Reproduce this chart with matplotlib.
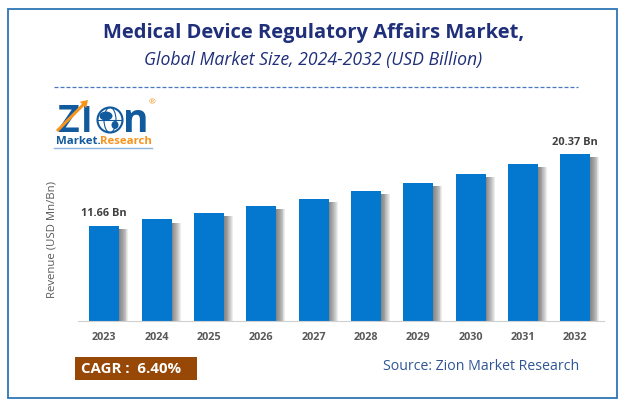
import numpy as np
import matplotlib.pyplot as plt
from matplotlib.patches import Rectangle, Circle, Ellipse, FancyArrow

plt.rcParams['font.family'] = ['Open Sans', 'DejaVu Sans']

years = ['2023', '2024', '2025', '2026', '2027', '2028', '2029', '2030', '2031', '2032']
revenue = [11.66, 12.41, 13.2, 14.04, 14.94, 15.9, 16.91, 18.0, 19.15, 20.37]

W, H = 624, 407
BLUE = '#0477CF'
NAVY = '#1F2F7A'

fig = plt.figure(figsize=(W / 100, H / 100), dpi=100)

# whole figure overlay, in pixels from top left
bg = fig.add_axes([0, 0, 1, 1])
bg.set_xlim(0, W)
bg.set_ylim(H, 0)
bg.axis('off')
bg.add_patch(Rectangle((7.5, 8.5), 609, 389, fill=False, ec='#2E75B6', lw=1.3))

bg.text(314, 33, 'Medical Device Regulatory Affairs Market,', ha='center', va='center',
        fontsize=14.5, fontweight='bold', color=NAVY)
bg.text(313, 60, 'Global Market Size, 2024-2032 (USD Billion)', ha='center', va='center',
        fontsize=12.7, style='italic', color=NAVY)
bg.plot([54, 578], [87, 87], color='#4A78BE', lw=0.9, dashes=(3.2, 1.6))

# chart
ax = fig.add_axes([78 / W, 1 - 321 / H, (604 - 78) / W, (321 - 120) / H])
ax.set_xlim(-0.5, 9.55)
ax.set_ylim(0, 201 / 8.19)
x = np.arange(len(years))
bar_w = 30 / 52.33

# soft shadow to the right of each bar
for i in range(10):
    off = 0.01 + i * 0.017
    ax.bar(x + bar_w / 2 + off / 2, np.array(revenue) - 0.4, width=off + 0.02,
           color='#444444', alpha=0.095, lw=0, zorder=1)
ax.bar(x, revenue, width=bar_w, color=BLUE, lw=0, zorder=2)

ax.set_xticks(x, years)
ax.set_yticks([])
ax.tick_params(axis='x', length=0, pad=8, labelsize=7.8, labelcolor='#595959')
for lab in ax.get_xticklabels():
    lab.set_fontweight('bold')
for s in ['top', 'right', 'left']:
    ax.spines[s].set_visible(False)
ax.spines['bottom'].set_color('#D0D0D0')
ax.patch.set_alpha(0)

ax.text(0, revenue[0] + 0.8, '11.66 Bn', ha='center', va='bottom', fontsize=7.9,
        fontweight='bold', color='#404040')
ax.text(9, revenue[9] + 0.75, '20.37 Bn', ha='center', va='bottom', fontsize=7.9,
        fontweight='bold', color='#404040')
bg.text(52, 240, 'Revenue (USD Mn/Bn)', rotation=90, ha='center', va='center',
        fontsize=8.2, color='#595959')

# CAGR box and source
bg.add_patch(Rectangle((75, 357), 122, 23, color='#974706', lw=0))
bg.text(81, 369, 'CAGR :  6.40%', ha='left', va='center', fontsize=10.8,
        fontweight='bold', color='white')
bg.text(481, 367, 'Source: Zion Market Research', ha='center', va='center',
        fontsize=10.2, color='#2F5597')

# logo
LOGO = '#115A9E'
bg.text(57, 132, 'Z', ha='left', va='baseline', fontsize=27, fontweight='bold', color=LOGO)
bg.text(81, 132, 'I', ha='left', va='baseline', fontsize=25, fontweight='bold', color=LOGO)
bg.text(123, 132, 'n', ha='left', va='baseline', fontsize=28, fontweight='bold', color=LOGO)
bg.add_patch(FancyArrow(57, 131, 31, -31, width=3, head_width=9, head_length=7,
                        length_includes_head=True, color='#F7941D', lw=0, zorder=3))
bg.add_patch(Circle((110, 120), 12.5, fc='white', ec=LOGO, lw=1.5))
bg.add_patch(Ellipse((110, 120), 12, 25, fill=False, ec=LOGO, lw=0.8))
bg.plot([98, 122], [120, 120], color=LOGO, lw=0.8)
bg.add_patch(Ellipse((106, 116), 13, 9, color=LOGO, lw=0))
bg.add_patch(Ellipse((115, 125), 7, 8, color=LOGO, lw=0))
bg.text(149, 103, '®', ha='left', va='center', fontsize=6, color='#F7941D')
bg.text(56, 142, 'Market.', ha='left', va='center', fontsize=8.2, fontweight='bold', color=LOGO)
bg.text(100, 142, 'Research', ha='left', va='center', fontsize=8.2, fontweight='bold', color='#F7941D')
bg.plot([54, 152], [148, 148], color='#8DB4DC', lw=1)

fig.savefig('out.png', dpi=100)
